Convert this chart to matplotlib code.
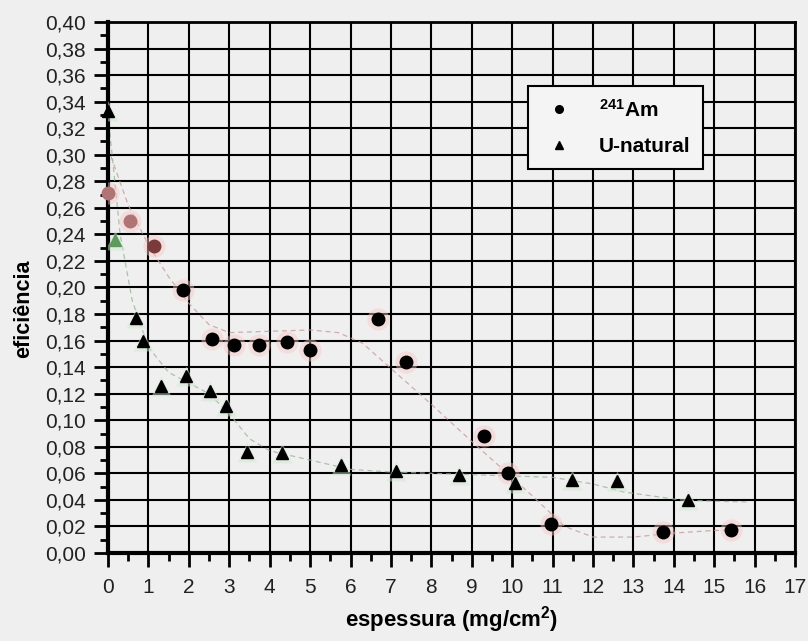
import numpy as np
import matplotlib
matplotlib.use("Agg")
import matplotlib.pyplot as plt
from matplotlib.ticker import MultipleLocator, FuncFormatter

plt.rcParams['font.family'] = ['Liberation Sans', 'DejaVu Sans']
plt.rcParams['mathtext.fontset'] = 'custom'
plt.rcParams['mathtext.rm'] = 'Liberation Sans'
plt.rcParams['mathtext.bf'] = 'Liberation Sans:bold'

# Am-241 measurements
am_x = [0.0, 0.54, 1.14, 1.86, 2.57, 3.12, 3.74, 4.43, 5.0, 6.68, 7.38, 9.31, 9.9, 10.97, 13.74, 15.42]
am_y = [0.271, 0.250, 0.231, 0.198, 0.161, 0.157, 0.157, 0.159, 0.153, 0.176, 0.144, 0.088, 0.060, 0.022, 0.016, 0.017]

# natural uranium measurements
u_x = [0.0, 0.17, 0.69, 0.87, 1.31, 1.93, 2.52, 2.92, 3.44, 4.31, 5.77, 7.13, 8.69, 10.07, 11.49, 12.6, 14.36]
u_y = [0.333, 0.236, 0.177, 0.160, 0.126, 0.133, 0.122, 0.111, 0.076, 0.075, 0.066, 0.062, 0.059, 0.053, 0.055, 0.054, 0.040]

# smoothed trend curves
am_fit_x = [0.0, 0.5, 1.0, 1.5, 2.0, 2.5, 3.0, 4.0, 5.0, 5.7, 6.3, 7.0, 8.0, 9.0, 9.7, 10.5, 11.3, 12.0, 13.0, 14.0, 15.0, 15.6]
am_fit_y = [0.305, 0.262, 0.232, 0.208, 0.188, 0.172, 0.166, 0.167, 0.168, 0.166, 0.158, 0.139, 0.112, 0.084, 0.065, 0.043, 0.020, 0.012, 0.012, 0.015, 0.017, 0.017]
u_fit_x = [0.0, 0.3, 0.6, 1.0, 1.5, 2.0, 2.5, 3.0, 3.5, 4.0, 5.0, 6.0, 7.0, 8.0, 9.0, 10.0, 11.0, 12.0, 12.75, 14.16, 15.0, 15.8]
u_fit_y = [0.330, 0.240, 0.190, 0.155, 0.136, 0.128, 0.120, 0.105, 0.086, 0.077, 0.070, 0.063, 0.061, 0.060, 0.059, 0.058, 0.057, 0.052, 0.046, 0.040, 0.039, 0.0385]

bg = '#efefef'
fig = plt.figure(figsize=(8.08, 6.41), dpi=100, facecolor=bg)
ax = fig.add_axes([0.1337, 0.1373, 0.8503, 0.8284], facecolor=bg)

ax.set_xlim(0, 17)
ax.set_ylim(0, 0.40)
ax.xaxis.set_major_locator(MultipleLocator(1))
ax.xaxis.set_minor_locator(MultipleLocator(0.5))
ax.yaxis.set_major_locator(MultipleLocator(0.02))
ax.yaxis.set_minor_locator(MultipleLocator(0.01))
ax.yaxis.set_major_formatter(FuncFormatter(lambda v, p: ('%.2f' % v).replace('.', ',')))
ax.grid(True, which='major', color='black', linewidth=1.5)
ax.set_axisbelow(True)

ax.tick_params(which='major', direction='out', length=10, width=2, labelsize=15, colors='black', labelcolor='#222222')
ax.tick_params(axis='x', which='major', pad=8)
ax.tick_params(axis='y', which='major', pad=6)
ax.tick_params(which='minor', direction='out', length=6, width=2, colors='black')
for side, w in [('left', 3), ('bottom', 3), ('right', 2), ('top', 2)]:
    ax.spines[side].set_linewidth(w)

# trend lines
ax.plot(am_fit_x, am_fit_y, color='#c99a9a', lw=0.9, ls=(0, (4, 3)), alpha=0.8, zorder=2)
ax.plot(u_fit_x, u_fit_y, color='#9ab59a', lw=0.9, ls=(0, (4, 3)), alpha=0.8, zorder=2)

# soft halos under markers
ax.plot(am_x, am_y, 'o', ms=16, color='#f6c6c6', alpha=0.45, mec='none', zorder=3)
ax.plot(u_x, u_y, '^', ms=15, color='#cfe9cf', alpha=0.5, mec='none', zorder=3)

am_colors = ['#b07474', '#b07474', '#7a3a3a'] + ['black'] * (len(am_x) - 3)
u_colors = ['black', '#5d9a5d'] + ['black'] * (len(u_x) - 2)
for x, y, c in zip(am_x, am_y, am_colors):
    ax.plot(x, y, 'o', ms=9, color=c, mec=c, zorder=5, clip_on=False)
for x, y, c in zip(u_x, u_y, u_colors):
    ax.plot(x, y, '^', ms=9, color=c, mec=c, zorder=5, clip_on=False)

h1, = ax.plot([], [], 'o', ms=5.5, color='black')
h2, = ax.plot([], [], '^', ms=5.5, color='black')
leg = ax.legend([h1, h2], [r'$\mathbf{^{241}}$Am', 'U-natural'],
                loc='upper left', bbox_to_anchor=(0.611, 0.879),
                prop={'weight': 'bold', 'size': 15}, frameon=True, fancybox=False,
                handlelength=1.8, handletextpad=1.0, borderpad=0.6, labelspacing=0.8,
                borderaxespad=0)
leg.get_frame().set_edgecolor('black')
leg.get_frame().set_linewidth(1.5)
leg.get_frame().set_facecolor('#f4f4f4')
leg.get_frame().set_alpha(1)
leg.set_zorder(10)

ax.set_xlabel(r'espessura (mg/cm$\mathbf{^2}$)', fontsize=16, fontweight='bold', labelpad=5)
ax.set_ylabel('eficiência', fontsize=15.5, fontweight='bold')
ax.yaxis.set_label_coords(-0.108, 0.46)

fig.savefig('out.png', dpi=100, facecolor=bg)
